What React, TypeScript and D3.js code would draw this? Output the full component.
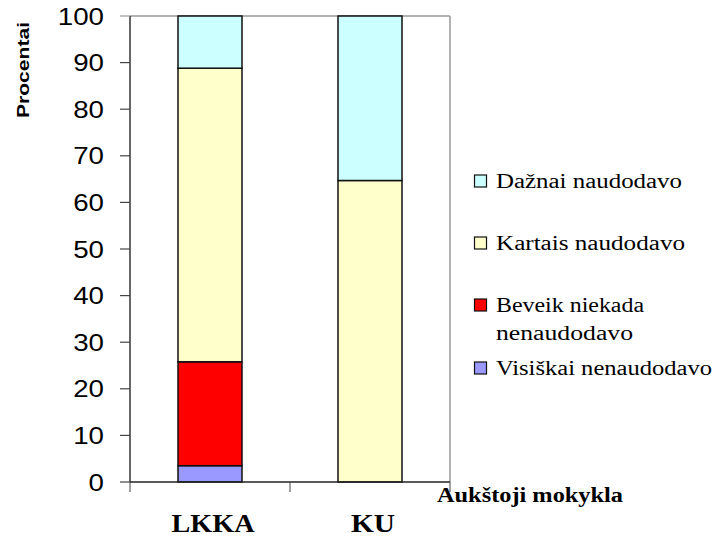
import React from "react";
import * as d3 from "d3";

const categories = ["LKKA", "KU"];
const seriesNames = ["Visiškai nenaudodavo", "Beveik niekada nenaudodavo", "Kartais naudodavo", "Dažnai naudodavo"];
const visiskai = [3.5, 0];
const beveik = [22.3, 0];
const kartais = [63.0, 64.7];
const daznai = [11.2, 35.3];
const colors = ["#9999FF", "#FF0000", "#FFFFCC", "#CCFFFF"];
const yTicks = [0, 10, 20, 30, 40, 50, 60, 70, 80, 90, 100];

const SERIF = "Liberation Serif, Times New Roman, Times, DejaVu Serif, serif";
const SANS = "Liberation Sans, Arial, Helvetica, sans-serif";

export default function App() {
  const W = 718, H = 538;
  const left = 130, right = 450, top = 16, bottom = 482;
  const x = d3.scaleBand().domain(categories).range([left, right]).paddingInner(0.6).paddingOuter(0.3);
  const y = d3.scaleLinear().domain([0, 100]).range([bottom, top]);
  const values = [visiskai, beveik, kartais, daznai];
  const rows = categories.map((c, i) => {
    const o: any = { cat: c };
    seriesNames.forEach((s, j) => (o[s] = values[j][i]));
    return o;
  });
  const stacked = d3.stack().keys(seriesNames)(rows);
  const legendItems = [
    { name: ["Dažnai naudodavo"], len: [186], color: colors[3], y: 181 },
    { name: ["Kartais naudodavo"], len: [189], color: colors[2], y: 243 },
    { name: ["Beveik niekada", "nenaudodavo"], len: [148, 137], color: colors[1], y: 305 },
    { name: ["Visiškai nenaudodavo"], len: [216], color: colors[0], y: 368 },
  ];
  const catLen: Record<string, number> = { LKKA: 83, KU: 44 };
  const band = x.step();
  const serifStyle = { fontFamily: SERIF };
  const sansStyle = { fontFamily: SANS };
  return (
    <svg width={W} height={H} style={{ position: "absolute", left: 0, top: 0 }}>
      <rect width={W} height={H} fill="white" />
      <line x1={left} x2={right} y1={top} y2={top} stroke="#999" strokeWidth={1.5} />
      <line x1={right} x2={right} y1={top} y2={bottom} stroke="#999" strokeWidth={1.5} />
      {stacked.map((s, si) =>
        s.map((d, i) =>
          d[1] - d[0] > 0 ? (
            <rect
              key={si + "-" + i}
              x={x(categories[i])!}
              y={y(d[1])}
              width={x.bandwidth()}
              height={y(d[0]) - y(d[1])}
              fill={colors[si]}
              stroke="#111"
              strokeWidth={1.5}
            />
          ) : null
        )
      )}
      <line x1={left} x2={left} y1={top} y2={bottom} stroke="#000" strokeWidth={1.2} />
      <line x1={left} x2={right} y1={bottom} y2={bottom} stroke="#222" strokeWidth={1.5} />
      {yTicks.map((t) => (
        <g key={t}>
          <line x1={left - 10} x2={left} y1={y(t)} y2={y(t)} stroke={t === 100 ? "#999" : "#444"} strokeWidth={1.2} />
          <text
            x={104}
            y={y(t) + 8.5}
            textAnchor="end"
            style={sansStyle}
            fontSize={23}
            textLength={String(t).length * 15.4}
            lengthAdjust="spacingAndGlyphs"
            fill="#000"
          >
            {t}
          </text>
        </g>
      ))}
      {[0, 1, 2].map((k) => (
        <line key={k} x1={left + k * band} x2={left + k * band} y1={bottom} y2={bottom + 10} stroke="#444" strokeWidth={1} />
      ))}
      {categories.map((c) => (
        <text
          key={c}
          x={x(c)! + x.bandwidth() / 2 + 3}
          y={532}
          textAnchor="middle"
          style={serifStyle}
          fontWeight="bold"
          fontSize={25}
          textLength={catLen[c]}
          lengthAdjust="spacingAndGlyphs"
        >
          {c}
        </text>
      ))}
      <text x={437} y={502} style={serifStyle} fontWeight="bold" fontSize={20} textLength={186} lengthAdjust="spacingAndGlyphs">
        Aukštoji mokykla
      </text>
      <text
        transform="translate(29,70) rotate(-90)"
        textAnchor="middle"
        style={sansStyle}
        fontWeight="bold"
        fontSize={17}
        textLength={96}
        lengthAdjust="spacingAndGlyphs"
      >
        Procentai
      </text>
      {legendItems.map((it) => (
        <g key={it.name[0]}>
          <rect x={474.5} y={it.y - 6} width={12} height={12} fill={it.color} stroke="#111" strokeWidth={1.2} />
          {it.name.map((n, k) => (
            <text
              key={n}
              x={496}
              y={it.y + 7 + k * 28}
              style={serifStyle}
              fontSize={20}
              textLength={it.len[k]}
              lengthAdjust="spacingAndGlyphs"
            >
              {n}
            </text>
          ))}
        </g>
      ))}
    </svg>
  );
}
